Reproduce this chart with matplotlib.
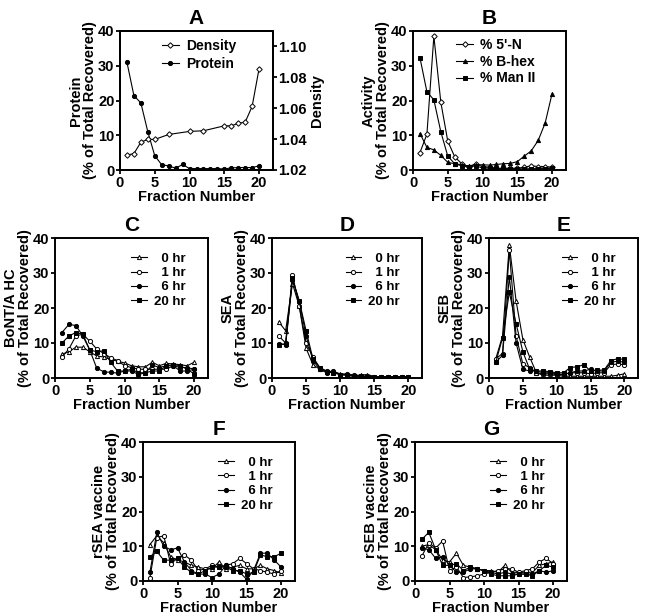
import numpy as np
import matplotlib.pyplot as plt

plt.rcParams['font.family'] = ['Liberation Sans', 'DejaVu Sans']
plt.rcParams['font.weight'] = 'bold'
plt.rcParams['axes.labelweight'] = 'bold'

fractions = np.arange(1, 21)

# Panel A
protein = [31, 21.4, 19.3, 11, 4.1, 1.5, 1.2, 0.5, 1.6, 0.4, 0.4, 0.4, 0.4, 0.4, 0.3, 0.6, 0.7, 0.7, 0.7, 1.2]
density_fr = [1, 2, 3, 4, 5, 7, 10, 12, 15, 16, 17, 18, 19, 20]
density = [1.0297, 1.0306, 1.038, 1.0398, 1.0398, 1.043, 1.045, 1.0454, 1.0486, 1.0486, 1.0502, 1.051, 1.0612, 1.0857]

# Panel B
n5 = [5, 10.3, 38.5, 19.5, 8.3, 3.8, 1.8, 0.8, 1.8, 1.0, 0.8, 0.5, 0.5, 0.5, 0.5, 0.8, 1.2, 1.0, 1.0, 0.8]
bhex = [10.5, 6.5, 5.8, 4.2, 2.2, 1.8, 1.5, 1.2, 1.5, 1.5, 1.4, 1.6, 1.8, 1.9, 2.4, 4, 5.5, 8.5, 13.5, 22]
man2 = [32.3, 22.5, 20.2, 11, 4, 1.8, 1.2, 0.8, 1.2, 0.6, 0.5, 0.4, 0.3, 0.3, 0.3, 0.3, 0.4, 0.4, 0.4, 0.5]

# figure space keeps the labels right-aligned like the original
times = ['\u20070 hr', '\u20071 hr', '\u20076 hr', '20 hr']

# Panel C: BoNT/A HC
bont = [
    [6.8, 7.5, 8.8, 8.8, 7.5, 6.3, 6, 5.3, 4.8, 4.3, 3.5, 3.2, 3.2, 4.5, 3.5, 4.2, 4, 3.8, 3.5, 4.5],
    [6, 8.3, 12, 12.5, 10.5, 8.3, 7, 5.8, 5, 3.5, 3, 2.5, 2.5, 2.5, 2.5, 2.5, 3.5, 3, 3, 2.5],
    [13, 15.3, 15, 12, 8, 2.8, 1.8, 1.6, 1.4, 2, 2, 1, 1.5, 3.7, 3, 3.5, 3.5, 2, 2, 2.5],
    [10, 12, 13, 12.5, 8, 7.5, 7.8, 4.5, 2, 2, 2.5, 1.5, 1.5, 2, 2, 3.5, 3.8, 3.5, 2.5, 1.2],
]
# Panel D: SEA
sea = [
    [16, 13.5, 27, 20.5, 8.5, 3.8, 2.5, 2, 1.8, 1.2, 1.0, 0.8, 0.8, 1.0, 0.4, 0.3, 0.3, 0.3, 0.3, 0.2],
    [12, 10, 29.5, 20.5, 10, 6, 3, 2, 1.5, 1, 1.2, 0.8, 0.6, 0.5, 0.3, 0.3, 0.3, 0.3, 0.3, 0.3],
    [9.8, 9.5, 28, 22, 12, 5, 2.5, 1.5, 2, 1, 0.8, 0.5, 0.5, 0.3, 0.3, 0.3, 0.3, 0.3, 0.3, 0.3],
    [9.5, 9.8, 28.5, 22, 13.5, 5.5, 3, 1.8, 1.5, 1, 0.8, 0.5, 0.5, 0.3, 0.3, 0.3, 0.3, 0.3, 0.3, 0.3],
]
# Panel E: SEB
seb = [
    [5.5, 12, 38, 22, 11, 6, 1.5, 0.8, 0.8, 0.8, 0.5, 0.5, 0.5, 0.5, 0.5, 0.5, 0.5, 0.5, 0.8, 1.2],
    [5.5, 7, 36.5, 12, 4, 3, 1.5, 1.2, 1.2, 1, 1, 1.5, 1.5, 1.5, 1.2, 1.5, 1.5, 3.8, 4, 3.8],
    [4.5, 6.5, 29, 10, 2.5, 2, 2, 1.5, 1.5, 1.2, 1, 1.5, 2, 2, 2.5, 2, 2, 4.5, 4.8, 4.5],
    [4.5, 11.5, 24.5, 15.5, 7.5, 2.5, 2, 2, 1.8, 1.5, 1.5, 3, 3.2, 3.8, 2, 2.2, 2.3, 5, 5.5, 5.3],
]
# Panel F: rSEA vaccine
rsea = [
    [10.5, 13, 11, 7, 6, 5.5, 4.5, 4, 3.5, 3.5, 5.5, 3.5, 4, 4.5, 3.5, 3.5, 4.5, 3.5, 3, 2.2],
    [1, 12.5, 13, 5, 6.5, 7.5, 6, 3, 3.5, 4.5, 4, 4.5, 5, 6.5, 5, 3.5, 3, 2.5, 2, 3],
    [2.5, 14, 10, 9, 9.5, 5.5, 3, 2, 2, 1, 2, 4.5, 3.5, 2.5, 0.5, 3, 8, 8, 6, 4],
    [7, 8.5, 6, 6, 6.5, 4, 2.5, 2, 3, 4, 4, 4, 3, 3, 2, 2.5, 7.5, 7, 7, 8],
]
# Panel G: rSEB vaccine
rseb = [
    [10, 10.5, 9, 6, 5.5, 8, 4.5, 4, 3.5, 3, 3, 2.5, 4.5, 2.5, 2.5, 2.5, 2.5, 4.5, 5, 5.5],
    [7.2, 11, 9.5, 11.5, 3, 4, 1, 1.2, 1.5, 2, 2.5, 3, 3.5, 3.5, 2.5, 3, 3.5, 5.5, 6.5, 5],
    [9.5, 9, 6.5, 7, 4.5, 2.5, 2.5, 3.5, 3.5, 3, 2.5, 2, 2.5, 2, 2, 2, 2, 3, 2.5, 3],
    [12, 14, 9, 4.5, 4.5, 5, 3, 4, 3.5, 3, 2, 1.5, 1.5, 1.5, 2, 2, 1.5, 3, 4.5, 4],
]

W, H = 648, 616
fig = plt.figure(figsize=(6.48, 6.16), dpi=100)


def make_ax(x0, x1, y0, y1):
    return fig.add_axes([x0 / W, 1 - y1 / H, (x1 - x0) / W, (y1 - y0) / H])


def style(ax, title, ylabel):
    ax.set_xlim(0, 22)
    ax.set_ylim(0, 40)
    ax.set_xticks([0, 5, 10, 15, 20])
    ax.set_yticks([0, 10, 20, 30, 40])
    ax.tick_params(direction='out', width=1.3, length=3, labelsize=10.5, pad=1)
    for s in ax.spines.values():
        s.set_linewidth(1.4)
    ax.set_title(title, fontsize=15, fontweight='bold', pad=5)
    ax.set_xlabel('Fraction Number', fontsize=10.5, labelpad=0)
    ax.set_ylabel(ylabel, fontsize=10.5, labelpad=1, linespacing=1.0)


mk = dict(color='black', lw=0.8, ms=3, mew=0.7)
time_styles = [
    dict(marker='^', mfc='white'),
    dict(marker='o', mfc='white'),
    dict(marker='o', mfc='black'),
    dict(marker='s', mfc='black'),
]


def time_panel(box, title, ylabel, series):
    ax = make_ax(*box)
    for vals, name, st in zip(series, times, time_styles):
        ax.plot(fractions, vals, label=name, **st, **mk)
    style(ax, title, ylabel)
    ax.legend(loc='upper right', frameon=False, fontsize=9.5, handlelength=1.2,
              handletextpad=0.5, labelspacing=0.15,
              bbox_to_anchor=(0.93, 0.98))
    return ax


# A
axA = make_ax(120, 273, 31, 170)
axA2 = axA.twinx()
axA2.plot(density_fr, density, marker='D', mfc='white', label='Density', color='black', lw=0.8, ms=2.8, mew=0.7)
axA.plot(fractions, protein, marker='o', mfc='black', label='Protein', **mk)
style(axA, 'A', 'Protein\n(% of Total Recovered)')
axA2.set_ylim(1.02, 1.11)
axA2.set_yticks([1.02, 1.04, 1.06, 1.08, 1.10])
axA2.set_yticklabels(['1.02', '1.04', '1.06', '1.08', '1.10'])
axA2.tick_params(direction='out', width=1.3, length=3, labelsize=10.5, pad=1)
axA2.set_ylabel('Density', fontsize=10.5, labelpad=2)
for s in axA2.spines.values():
    s.set_linewidth(1.4)
h1, l1 = axA2.get_legend_handles_labels()
h2, l2 = axA.get_legend_handles_labels()
axA2.legend(h1 + h2, l1 + l2, loc='upper right', frameon=False, fontsize=10,
            handlelength=1.2, handletextpad=0.5, labelspacing=0.25,
            bbox_to_anchor=(0.84, 1.03))

# B
axB = make_ax(413, 566, 31, 170)
axB.plot(fractions, n5, marker='D', mfc='white', label="% 5'-N", color='black', lw=0.8, ms=2.8, mew=0.7)
axB.plot(fractions, bhex, marker='^', mfc='black', label='% B-hex', **mk)
axB.plot(fractions, man2, marker='s', mfc='black', label='% Man II', **mk)
style(axB, 'B', 'Activity\n(% of Total Recovered)')
axB.legend(loc='upper right', frameon=False, fontsize=10, handlelength=1.2,
           handletextpad=0.5, labelspacing=0.2, bbox_to_anchor=(0.88, 1.04))

time_panel((55, 208, 238, 378), 'C', 'BoNT/A HC\n(% of Total Recovered)', bont)
time_panel((272, 422, 238, 378), 'D', 'SEA\n(% of Total Recovered)', sea)
time_panel((489, 638, 238, 378), 'E', 'SEB\n(% of Total Recovered)', seb)
time_panel((143, 295, 442, 581), 'F', 'rSEA vaccine\n(% of Total Recovered)', rsea)
time_panel((415, 567, 442, 581), 'G', 'rSEB vaccine\n(% of Total Recovered)', rseb)

fig.savefig('out.png', dpi=100)
